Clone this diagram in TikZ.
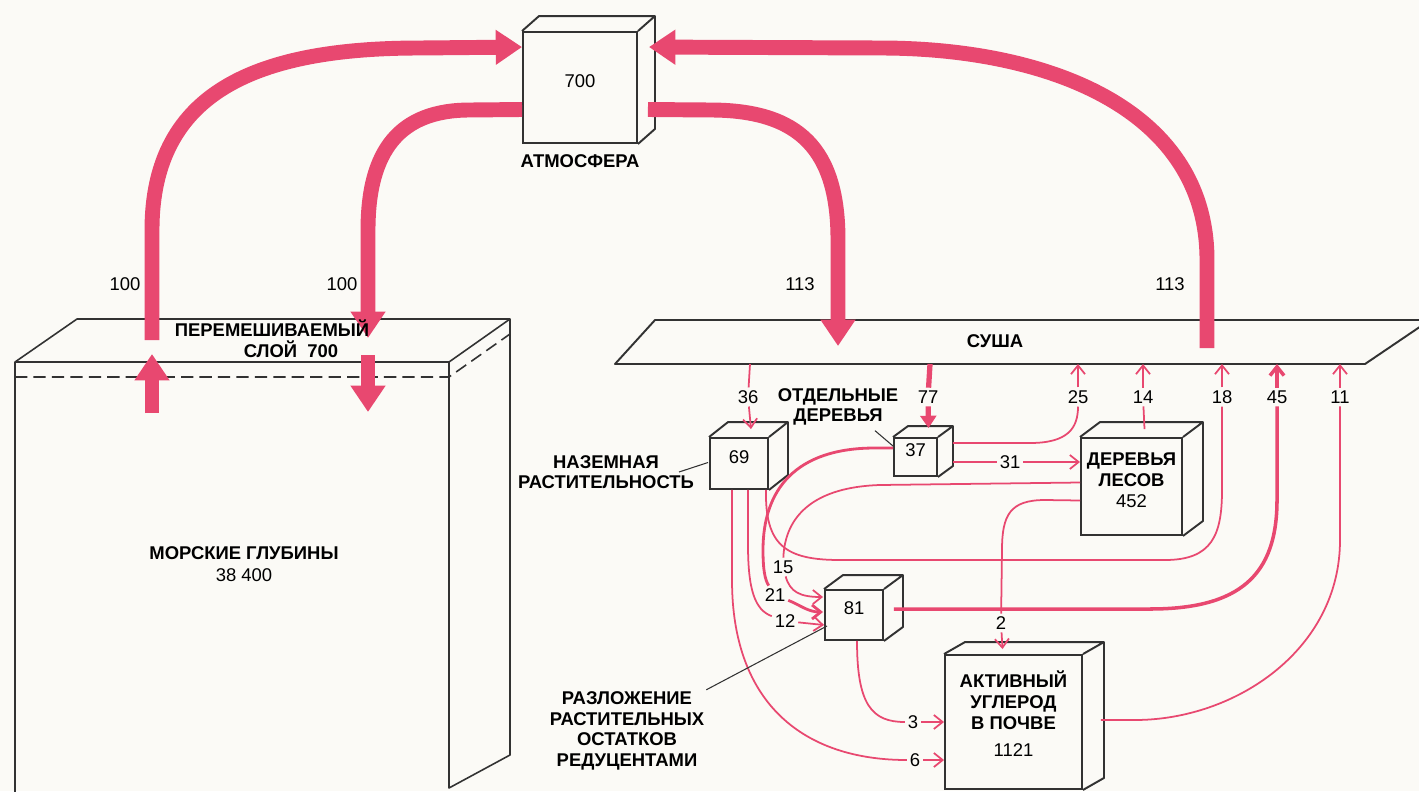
\documentclass[tikz,border=0pt]{standalone}
\usepackage{fontspec}
\setmainfont{Liberation Sans}
\usetikzlibrary{arrows.meta, positioning, calc, fit}

\definecolor{flux_red}{RGB}{232,72,112}
\definecolor{paper}{RGB}{251,250,246}
\definecolor{ink}{RGB}{50,50,50}

\begin{document}
\begin{tikzpicture}[
    x=0.02cm, y=-0.02cm,
    % Define styles for the nodes
    cube_face/.style={rectangle, draw=ink, line width=1.1pt, inner sep=0pt, align=center, font=\fontsize{10.5}{12}\selectfont},
    cube_edge/.style={draw=ink, line width=1.1pt, line join=round},
    ocean_edge/.style={draw=ink, line width=0.9pt, line join=round},
    box_label/.style={align=center, font=\bfseries\fontsize{10.5}{11.7}\selectfont, inner sep=1pt},
    num_label/.style={font=\fontsize{10.5}{12}\selectfont, inner sep=1.5pt},
    % Styles for arrows
    big_flow/.style={line width=8.5pt, flux_red, -{Triangle[length=15pt,width=19pt]}},
    flux_line/.style={draw=flux_red, line width=1pt},
    flux_arrow/.style={flux_line, -{Straight Barb[length=5pt,width=8pt]}},
    leader/.style={draw=ink, line width=0.6pt}
]
    \useasboundingbox (0,0) rectangle (1419,791);
    \clip (0,0) rectangle (1419,791);
    \fill[paper] (0,0) rectangle (1419,791);

    % =========================================================================
    % RESERVOIRS
    % =========================================================================
    \node (atm) [cube_face, fit={(523,32) (637,143)}] {700};
    \node (atm_lbl) [box_label, below=5pt of atm] {АТМОСФЕРА};

    \node (veg) [cube_face, fit={(710,438) (768,489)}] {69};
    \node (tree) [cube_face, fit={(894,438) (937,476)}] {37};
    \node (forest) [cube_face, fit={(1081,438) (1182,535)}] {\textbf{ДЕРЕВЬЯ}\\\textbf{ЛЕСОВ}\\452};
    \node (decomp) [cube_face, fit={(825,590) (883,640)}] {81};
    \node (soil) [cube_face, fit={(945,655) (1082,789)}] {\textbf{АКТИВНЫЙ}\\\textbf{УГЛЕРОД}\\\textbf{В ПОЧВЕ}\\[3pt]1121};

    % depth faces of the cubes
    \foreach \n/\dx/\dy in {atm/17/-15, veg/19/-15, tree/15/-11, forest/20/-15, decomp/19/-14, soil/21/-12}
        \draw[cube_edge] (\n.north west) -- ++(\dx,\dy) -| ($(\n.south east)+(\dx,\dy)$) -- (\n.south east)
                         (\n.north east) -- ++(\dx,\dy);

    % ocean block (runs off the bottom)
    \draw[ocean_edge] (15,800) -- (15,362) -- (449,362) -- (449,788) -- (510,755) -- (510,319) -- (77,319) -- (15,362);
    \draw[ocean_edge] (449,362) -- (510,319);
    \draw[ocean_edge, dashed, dash pattern=on 7pt off 3.5pt] (15,377) -- (449,377) -- (510,334);

    % land strip
    \draw[ocean_edge, line width=1.1pt] (615,364) -- (655,320) -- (1430,320) -- (1365,364) -- cycle;
    \node (land) [box_label] at (995,341) {СУША};

    \foreach \k/\xx in {36/750, 77/930, 25/1078, 14/1143, 18/1222, 45/1277, 11/1340}
        \coordinate (land_\k) at (\xx,364);

    % =========================================================================
    % OCEAN <-> ATMOSPHERE <-> LAND (big flows)
    % =========================================================================
    \coordinate (mix_up_top) at (152,340);
    \coordinate (mix_up_low) at (152,413);
    \coordinate (mix_up_in) at (152,354);
    \coordinate (mix_dn_top) at (368,338);
    \coordinate (mix_dn_in) at (368,355);
    \coordinate (mix_dn_low) at (368,412);
    \coordinate (land_in) at (838,346);
    \coordinate (land_out) at (1207,348);

    \draw[big_flow] (mix_up_top) -- (152,230) .. controls (152,90) and (260,48) .. (420,48) -- ($(atm.north west)+(0,16)$);
    \draw[big_flow] (mix_up_low) -- (mix_up_in);
    \draw[big_flow] ($(atm.west)+(0,22)$) -- (470,110) .. controls (400,110) and (368,150) .. (368,230) -- (mix_dn_top);
    \draw[big_flow] (mix_dn_in) -- (mix_dn_low);
    \draw[big_flow] ($(atm.east)+(10,22)$) -- (710,110) .. controls (800,110) and (838,150) .. (838,240) -- (land_in);
    \draw[big_flow] (land_out) -- (1207,260) .. controls (1207,110) and (1050,48) .. (880,48) -- ($(atm.north east)+(11,16)$);

    \node (lbl_100a) [num_label] at (125,284) {100};
    \node (lbl_100b) [num_label] at (342,284) {100};
    \node (lbl_113a) [num_label] at (800,284) {113};
    \node (lbl_113b) [num_label] at (1170,284) {113};

    \node (mix_lbl) [box_label] at (272,339) {ПЕРЕМЕШИВАЕМЫЙ\\\hspace*{0.76cm}СЛОЙ\ \ 700};
    \node (deep_lbl) [box_label] at (244,553) {МОРСКИЕ ГЛУБИНЫ};
    \node (deep_num) [num_label, below=2pt of deep_lbl] {38 400};

    % =========================================================================
    % LAND CARBON FLOWS (thin)
    % =========================================================================
    \foreach \k/\xx in {36/748, 77/928, 25/1078, 14/1143, 18/1222, 45/1277, 11/1340}
        \node (lbl_\k) [num_label] at (\xx,397) {\k};
    \node (lbl_31) [num_label] at (1010,462) {31};
    \node (lbl_15) [num_label] at (783,567) {15};
    \node (lbl_21) [num_label] at (775,595) {21};
    \node (lbl_12) [num_label] at (785,621) {12};
    \node (lbl_2) [num_label] at (1001,623) {2};
    \node (lbl_3) [num_label] at (913,722) {3};
    \node (lbl_6) [num_label] at (915,760) {6};

    % land -> plants
    \draw[flux_line] (land_36) -- (lbl_36);
    \draw[flux_arrow] (lbl_36) -- ($(veg.north)+(12,-8)$);
    \draw[flux_line, line width=3pt] (land_77) -- (lbl_77);
    \draw[flux_line, line width=3pt, -{Triangle[length=7pt,width=9pt]}] (lbl_77) -- ($(tree.north)+(13,-9)$);

    % back to land
    \draw[flux_line] ($(tree.east)+(15,-14)$) -- (1030,443) .. controls (1068,443) and (1078,428) .. (lbl_25);
    \draw[flux_arrow] (lbl_25) -- (land_25);
    \draw[flux_line] ($(forest.north)+(13,-8)$) -- (lbl_14);
    \draw[flux_arrow] (lbl_14) -- (land_14);
    \draw[flux_line] ($(veg.south east)+(-3,0)$) .. controls (765,545) and (785,560) .. (840,560) -- (1165,560) .. controls (1212,560) and (1222,535) .. (1222,490) -- (lbl_18);
    \draw[flux_arrow] (lbl_18) -- (land_18);
    \draw[flux_line, line width=2pt] ($(decomp.east)+(10,-6)$) -- (1150,609) .. controls (1240,609) and (1277,575) .. (1277,500) -- (lbl_45);
    \draw[flux_arrow, line width=2pt] (lbl_45) -- (land_45);
    \draw[flux_line] ($(soil.east)+(18,-2)$) -- (1135,720) .. controls (1235,720) and (1340,650) .. (1340,540) -- (lbl_11);
    \draw[flux_arrow] (lbl_11) -- (land_11);

    % between the pools
    \draw[flux_line] ($(tree.east)+(15,5)$) -- (lbl_31);
    \draw[flux_arrow] (lbl_31) -- (lbl_31 -| forest.west);
    \draw[flux_line] ($(forest.west)+(0,-4)$) -- (880,485) .. controls (815,487) and (785,515) .. (lbl_15);
    \draw[flux_arrow] (lbl_15) .. controls (790,592) and (800,597) .. ($(decomp.west)+(-1,-18)$);
    \draw[flux_line, line width=1.6pt] ($(tree.west)+(0,-9)$) -- (875,448) .. controls (795,448) and (763,490) .. (763,550) .. controls (763,570) and (765,580) .. (lbl_21);
    \draw[flux_arrow, line width=1.6pt] (lbl_21) .. controls (800,605) and (808,612) .. ($(decomp.west)+(-1,-3)$);
    \draw[flux_line] ($(veg.south)+(9,0)$) -- (748,545) .. controls (748,590) and (755,610) .. (lbl_12);
    \draw[flux_arrow] (lbl_12) -- ($(decomp.west)+(0,10)$);
    \draw[flux_line] ($(veg.south)+(-7,0)$) -- (732,580) .. controls (732,705) and (805,760) .. (lbl_6);
    \draw[flux_arrow] (lbl_6) -- (lbl_6 -| soil.west);
    \draw[flux_line] ($(decomp.south)+(3,0)$) .. controls (857,705) and (872,722) .. (lbl_3);
    \draw[flux_arrow] (lbl_3) -- (lbl_3 -| soil.west);
    \draw[flux_line] ($(forest.west)+(0,14)$) -- (1045,500) .. controls (1010,500) and (1002,515) .. (1002,550) -- (lbl_2);
    \draw[flux_arrow] (lbl_2) -- ($(soil.north)+(-11,-5)$);

    % =========================================================================
    % LABELS WITH LEADERS
    % =========================================================================
    \node (veg_lbl) [box_label] at (606,472) {НАЗЕМНАЯ\\РАСТИТЕЛЬНОСТЬ};
    \node (tree_lbl) [box_label] at (838,407) {ОТДЕЛЬНЫЕ\\ДЕРЕВЬЯ};
    \node (decomp_lbl) [box_label] at (627,731) {РАЗЛОЖЕНИЕ\\РАСТИТЕЛЬНЫХ\\ОСТАТКОВ\\РЕДУЦЕНТАМИ};

    \draw[leader] ($(veg_lbl.east)+(-17,0)$) -- ($(veg.west)+(-1,-1)$);
    \draw[leader] ($(tree_lbl.south)+(37,3)$) -- ($(tree.north west)+(0,9)$);
    \draw[leader] (decomp_lbl.north east) -- ($(decomp.south west)+(3,-15)$);

\end{tikzpicture}
\end{document}
